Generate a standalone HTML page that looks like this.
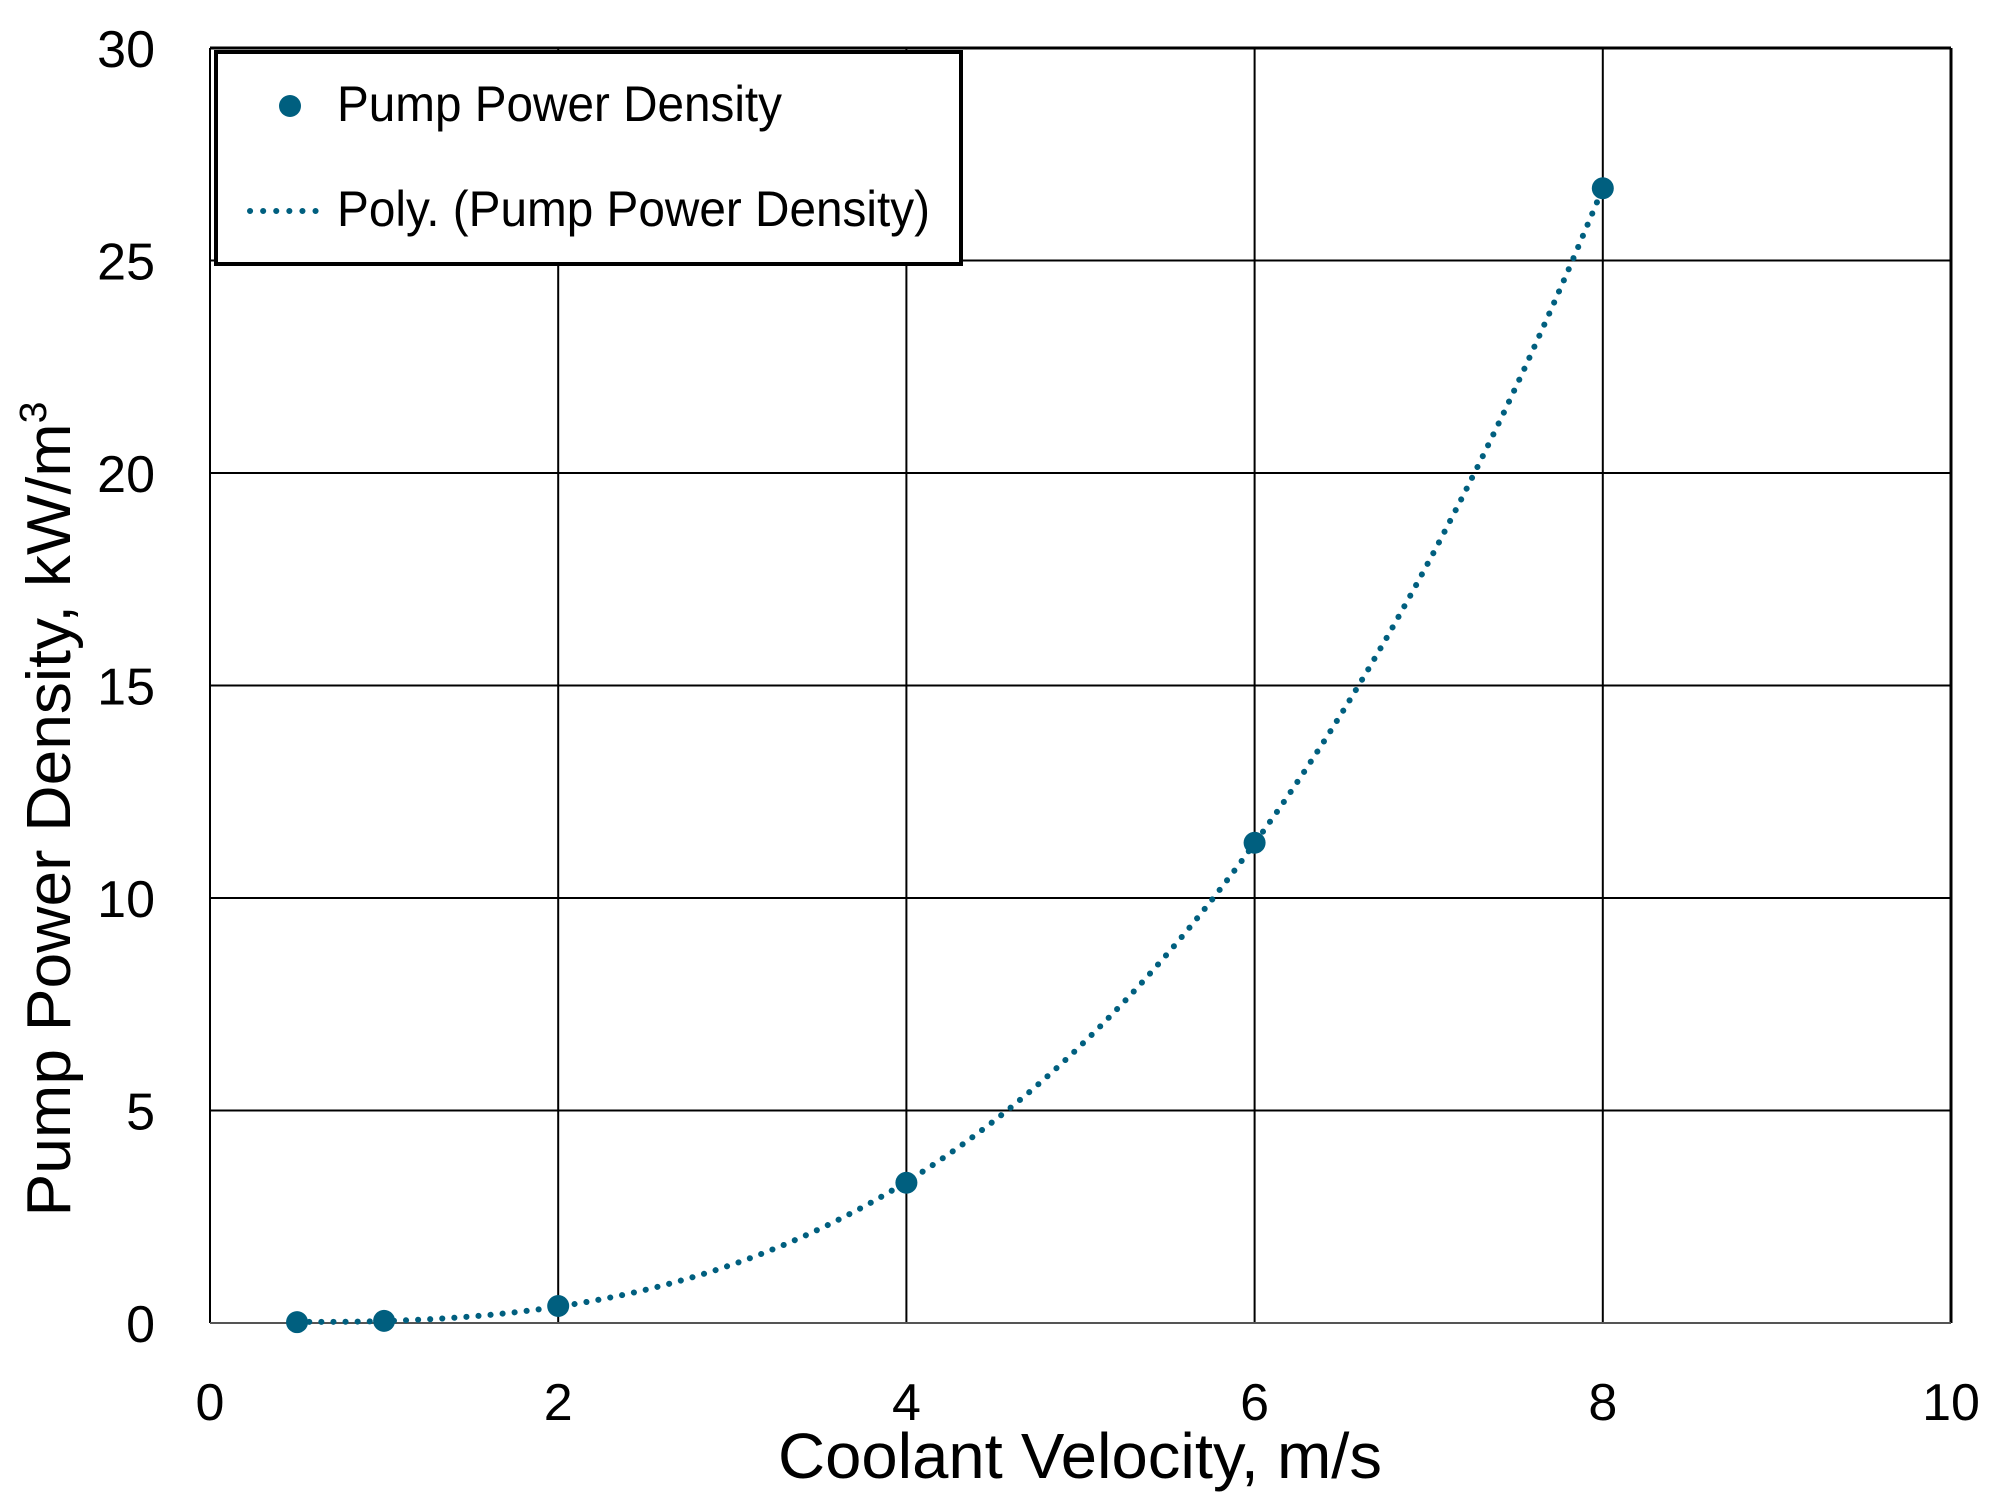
<!DOCTYPE html>
<html><head><meta charset="utf-8"><style>
html,body{margin:0;padding:0;background:#fff;}
svg{display:block;font-family:"Liberation Sans",sans-serif;}
</style></head><body>
<svg id="chart" width="1997" height="1505" viewBox="0 0 1997 1505" xmlns="http://www.w3.org/2000/svg">
<rect width="1997" height="1505" fill="#fff"/>
<g id="grid"></g>
<g id="series"></g>
<g id="legend">
  <rect x="216" y="52" width="745" height="212" fill="#fff" stroke="#000" stroke-width="4"/>
  <circle cx="290" cy="106" r="11" fill="#005f7f"/>
  <text x="337" y="121" font-size="50" textLength="445" lengthAdjust="spacingAndGlyphs">Pump Power Density</text>
  <line x1="250" y1="211" x2="328" y2="211" stroke="#005f7f" stroke-width="6" stroke-linecap="round" stroke-dasharray="0.1 13"/>
  <text x="337" y="226" font-size="50" textLength="593" lengthAdjust="spacingAndGlyphs">Poly. (Pump Power Density)</text>
</g>
<text x="1080" y="1478" font-size="64" text-anchor="middle" textLength="604" lengthAdjust="spacingAndGlyphs">Coolant Velocity, m/s</text>
<text transform="translate(70,809) rotate(-90)" font-size="62" text-anchor="middle" textLength="815" lengthAdjust="spacingAndGlyphs">Pump  Power Density, kW/m<tspan font-size="38" dy="-24">3</tspan></text>
</svg>
<script>
const xValues=[0.5,1,2,4,6,8];
const yValues=[0.02,0.05,0.4,3.3,11.3,26.7];
const xTicks=[0,2,4,6,8,10];
const yTicks=[0,5,10,15,20,25,30];
const L=210,R=1951,T=48,B=1323;
const xs=v=>L+(v-0)/(10-0)*(R-L);
const ys=v=>B-(v-0)/(30-0)*(B-T);
const NS="http://www.w3.org/2000/svg";
const grid=document.getElementById('grid'),ser=document.getElementById('series');
function mk(tag,attrs,parent){const e=document.createElementNS(NS,tag);for(const k in attrs)e.setAttribute(k,attrs[k]);parent.appendChild(e);return e;}
xTicks.forEach(t=>{
  const l=mk('line',{x1:xs(t),x2:xs(t),y1:T,y2:B,stroke:'#000','stroke-width':(t===10?3:2)},grid);
  
  
  const tx=mk('text',{x:xs(t),y:1420,'font-size':52,'text-anchor':'middle'},grid);
  tx.textContent=t;
  
  
});
yTicks.forEach(t=>{
  const l=mk('line',{x1:L,x2:R,y1:ys(t),y2:ys(t),stroke:(t===0?'#555':'#000'),'stroke-width':(t===30?3:2)},grid);
  
  
  const tx=mk('text',{x:155,y:ys(t)+19,'font-size':52,'text-anchor':'end'},grid);
  tx.textContent=t;
  
  
});
function fit(deg){const n=deg+1;const A=[],b=[];for(let i=0;i<n;i++){A.push(new Array(n).fill(0));b.push(0);}
  xValues.forEach((x,k)=>{for(let i=0;i<n;i++){for(let j=0;j<n;j++)A[i][j]+=Math.pow(x,i+j);b[i]+=yValues[k]*Math.pow(x,i);}});
  for(let i=0;i<n;i++){let p=i;for(let r=i+1;r<n;r++)if(Math.abs(A[r][i])>Math.abs(A[p][i]))p=r;[A[i],A[p]]=[A[p],A[i]];[b[i],b[p]]=[b[p],b[i]];
    for(let r=i+1;r<n;r++){const f=A[r][i]/A[i][i];for(let c=i;c<n;c++)A[r][c]-=f*A[i][c];b[r]-=f*b[i];}}
  const c=new Array(n).fill(0);for(let i=n-1;i>=0;i--){let s=b[i];for(let j=i+1;j<n;j++)s-=A[i][j]*c[j];c[i]=s/A[i][i];}return c;}
const coef=fit(3);
const f=x=>coef.reduce((s,c,i)=>s+c*Math.pow(x,i),0);
let d='';const x0=Math.min(...xValues),x1=Math.max(...xValues);
for(let i=0;i<=200;i++){const x=x0+(x1-x0)*i/200;d+=(i?'L':'M')+xs(x).toFixed(1)+','+ys(Math.max(f(x),0)).toFixed(1);}
const tl=mk('path',{d:d,fill:'none',stroke:'#005f7f','stroke-width':6,'stroke-linecap':'round','stroke-dasharray':'0.1 12'},ser);


xValues.forEach((x,i)=>{
  const c=mk('circle',{cx:xs(x),cy:ys(yValues[i]),r:11,fill:'#005f7f'},ser);
  
  
});
</script>
</body></html>
